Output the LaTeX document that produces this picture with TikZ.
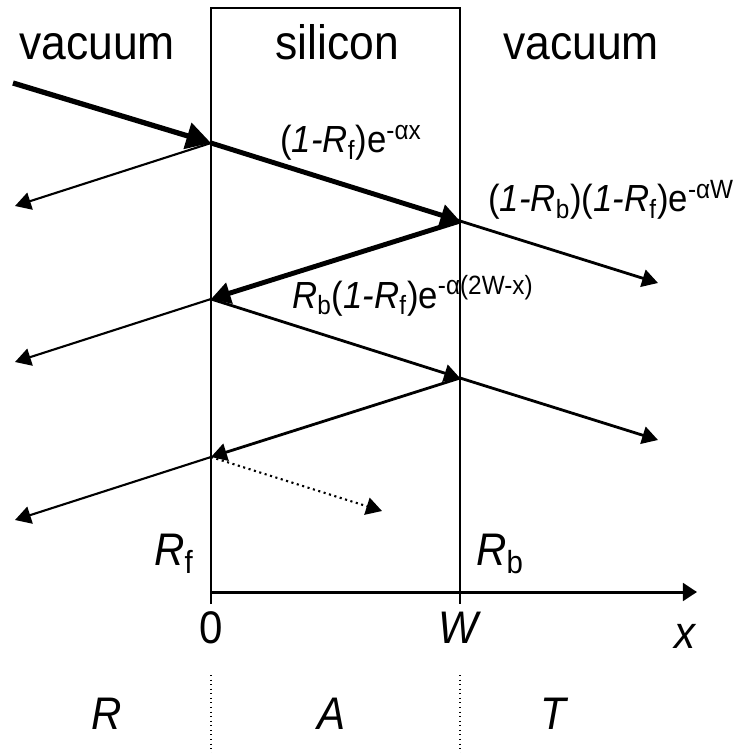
\documentclass[tikz,border=0pt]{standalone}
\usepackage{fontspec}
\setmainfont[FakeStretch=0.92]{Liberation Sans}
\usetikzlibrary{arrows.meta}

\tikzset{
  wall/.style={line width=1.6pt},
  guide/.style={line width=0.6pt, dotted},
  bigray/.style={line width=3pt, -{Triangle[length=14pt,width=15pt]}},
  thickray/.style={line width=2.8pt, -{Triangle[length=11pt,width=12pt]}},
  ray/.style={line width=1.6pt, -{Triangle[length=9pt,width=10pt]}},
  thinray/.style={line width=1.2pt, -{Triangle[length=9pt,width=10pt]}},
  region/.style={font=\fontsize{27.5}{32}\selectfont, inner sep=0pt, anchor=base},
  lbl/.style={font=\fontsize{26}{30}\selectfont, inner sep=0pt, anchor=base},
  formula/.style={font=\fontsize{21.5}{26}\selectfont, inner sep=0pt, anchor=base west},
}

\begin{document}
\begin{tikzpicture}[x=0.02cm,y=-0.02cm]
    \useasboundingbox (0,0) rectangle (737,753);

    % Slab and its two surfaces
    \coordinate (fbot) at (211,604);
    \coordinate (bbot) at (460,604);
    \draw[wall] (fbot) -- (211,8) -- (460,8) -- (bbot);

    % x axis
    \coordinate (origin) at (211,592);
    \coordinate (xend) at (697,592);
    \draw[line width=1.7pt, -{Triangle[length=8pt,width=10pt]}] (origin) -- (xend);

    % Guides between the regions
    \draw[guide] (211,675) -- (211,753);
    \draw[guide] (460,675) -- (460,753);

    % Hit points on the surfaces
    \coordinate (f1) at (211,143);
    \coordinate (b1) at (460,221);
    \coordinate (f2) at (211,299);
    \coordinate (b2) at (460,378);
    \coordinate (f3) at (211,457);

    % Free ends of the rays
    \coordinate (src) at (13,83);
    \coordinate (l1) at (15,206);
    \coordinate (l2) at (15,362);
    \coordinate (l3) at (15,520);
    \coordinate (t1) at (658,283);
    \coordinate (t2) at (658,440);
    \coordinate (lost) at (382,511);

    % Rays
    \draw[bigray] (src) -- (f1);
    \draw[thickray] (f1) -- (b1);
    \draw[thickray] (b1) -- (f2);
    \draw[thinray] (f1) -- (l1);
    \draw[ray] (b1) -- (t1);
    \draw[thinray] (f2) -- (l2);
    \draw[ray] (f2) -- (b2);
    \draw[ray] (b2) -- (t2);
    \draw[ray] (b2) -- (f3);
    \draw[thinray] (f3) -- (l3);
    \draw[thinray, dotted] (f3) -- (lost);

    % Region names
    \node[region] (vacl) at (97,60) {vacuum};
    \node[region] (si) at (337,60) {silicon};
    \node[region] (vacr) at (581,60) {vacuum};

    % Intensities
    \node[formula] (inside) at (280,153) {(\textit{1-R}\textsubscript{f})e\textsuperscript{-αx}};
    \node[formula] (trans) at (488,212) {(\textit{1-R}\textsubscript{b})(\textit{1-R}\textsubscript{f})e\textsuperscript{-αW}};
    \node[formula] (back) at (292,308) {\textit{R}\textsubscript{b}(\textit{1-R}\textsubscript{f})e\textsuperscript{-α(2W-x)}};

    % Surface reflectances
    \node[lbl, anchor=base east] (rf) at (194,565) {\textit{R}\textsubscript{f}};
    \node[lbl, anchor=base west] (rb) at (476,565) {\textit{R}\textsubscript{b}};

    % Axis labels
    \node[lbl] (zlab) at (211,643) {0};
    \node[lbl] (wlab) at (460,643) {\textit{W}};
    \node[lbl] (xlab) at (686,648) {\textit{x}};

    % Fractions
    \node[lbl] (rlab) at (107,729) {\textit{R}};
    \node[lbl] (alab) at (332,729) {\textit{A}};
    \node[lbl] (tlab) at (555,729) {\textit{T}};
\end{tikzpicture}
\end{document}
